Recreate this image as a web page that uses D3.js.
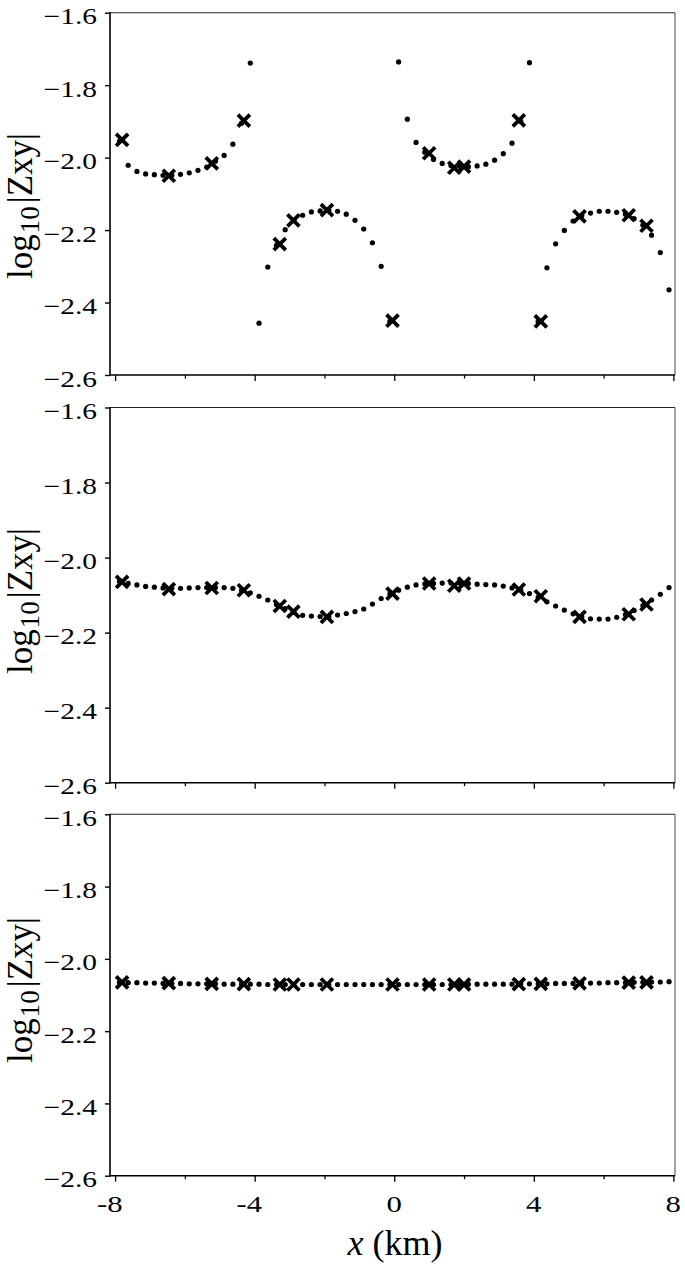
<!DOCTYPE html>
<html>
<head>
<meta charset="utf-8">
<script src="https://cdn.jsdelivr.net/npm/d3@7"></script>
<style>
  html, body { margin: 0; padding: 0; background: #fff; }
  svg { display: block; }
</style>
</head>
<body>
<svg id="chart" width="685" height="1266"></svg>
<script>
// ---------------- data ----------------
const gridX = [-7.875,-7.625,-7.375,-7.125,-6.875,-6.625,-6.375,-6.125,-5.875,-5.625,-5.375,-5.125,-4.875,-4.625,-4.375,-4.125,
  -3.875,-3.625,-3.375,-3.125,-2.875,-2.625,-2.375,-2.125,-1.875,-1.625,-1.375,-1.125,-0.875,-0.625,-0.375,-0.125,
  0.125,0.375,0.625,0.875,1.125,1.375,1.625,1.875,2.125,2.375,2.625,2.875,3.125,3.375,3.625,3.875,
  4.125,4.375,4.625,4.875,5.125,5.375,5.625,5.875,6.125,6.375,6.625,6.875,7.125,7.375,7.625,7.875];

const stationX = [-7.8,-6.46,-5.23,-4.31,-3.28,-2.89,-1.93,-0.05,1.0,1.72,2.0,3.57,4.2,5.31,6.72,7.23];

const curveTop = [-1.955,-2.021,-2.038,-2.045,-2.047,-2.049,-2.049,-2.046,-2.042,-2.035,-2.026,-2.010,-1.994,-1.963,-1.905,-1.739,
  -2.457,-2.302,-2.242,-2.199,-2.173,-2.159,-2.150,-2.147,-2.145,-2.148,-2.156,-2.173,-2.197,-2.235,-2.300,-2.452,
  -1.736,-1.894,-1.958,-1.985,-2.005,-2.016,-2.022,-2.024,-2.025,-2.023,-2.018,-2.007,-1.989,-1.960,-1.900,-1.738,
  -2.452,-2.304,-2.238,-2.201,-2.175,-2.160,-2.153,-2.148,-2.148,-2.151,-2.156,-2.168,-2.186,-2.214,-2.262,-2.365];
const stationTop = [-1.951,-2.050,-2.016,-1.898,-2.239,-2.173,-2.145,-2.450,-1.988,-2.028,-2.025,-1.897,-2.452,-2.162,-2.159,-2.188];

const curveMid = [-2.064,-2.069,-2.073,-2.077,-2.079,-2.081,-2.082,-2.082,-2.081,-2.080,-2.080,-2.080,-2.080,-2.082,-2.087,-2.094,
  -2.103,-2.113,-2.125,-2.136,-2.146,-2.154,-2.156,-2.157,-2.157,-2.153,-2.149,-2.144,-2.137,-2.124,-2.109,-2.097,
  -2.087,-2.079,-2.073,-2.070,-2.069,-2.068,-2.068,-2.068,-2.069,-2.071,-2.072,-2.073,-2.076,-2.081,-2.087,-2.096,
  -2.106,-2.118,-2.129,-2.140,-2.150,-2.158,-2.163,-2.164,-2.164,-2.159,-2.152,-2.141,-2.128,-2.113,-2.098,-2.080];
const stationMid = [-2.065,-2.084,-2.081,-2.087,-2.129,-2.144,-2.158,-2.096,-2.069,-2.075,-2.069,-2.085,-2.103,-2.158,-2.151,-2.125];

const curveBot = [-2.065,-2.066,-2.066,-2.067,-2.067,-2.068,-2.068,-2.068,-2.069,-2.069,-2.069,-2.069,-2.070,-2.070,-2.070,-2.070,
  -2.070,-2.071,-2.071,-2.071,-2.071,-2.071,-2.071,-2.071,-2.071,-2.071,-2.071,-2.071,-2.071,-2.071,-2.071,-2.071,
  -2.071,-2.071,-2.071,-2.071,-2.071,-2.071,-2.071,-2.070,-2.070,-2.070,-2.070,-2.070,-2.070,-2.070,-2.069,-2.069,
  -2.069,-2.069,-2.068,-2.068,-2.068,-2.067,-2.067,-2.067,-2.066,-2.066,-2.066,-2.065,-2.065,-2.064,-2.064,-2.063];
const stationBot = [-2.065,-2.067,-2.069,-2.070,-2.071,-2.071,-2.071,-2.071,-2.071,-2.071,-2.071,-2.070,-2.069,-2.068,-2.066,-2.065];

const yTicks = [-1.6,-1.8,-2.0,-2.2,-2.4,-2.6];
const xMajorTicks = [-8,-4,0,4,8];
const xMinorTicks = [-6,-2,2,6];
const xTickLabels = ["-8","-4","0","4","8"];
const yLabelMain = "log";
const yLabelSub = "10";
const yLabelTail = "|Zxy|";

// ---------------- layout ----------------
const FONT = "'Liberation Serif', 'Times New Roman', Times, 'DejaVu Serif', serif";
const L = 110, R = 675;
const panels = [
  { top: 12.7, bottom: 375,   labelCY: 206, curve: curveTop, stations: stationTop, xlabels: false },
  { top: 407.5, bottom: 782.7, labelCY: 601, curve: curveMid, stations: stationMid, xlabels: false },
  { top: 814.3, bottom: 1175.7, labelCY: 990, curve: curveBot, stations: stationBot, xlabels: true }
];
const TICK_SX = 1.28;

const svg = d3.select("#chart");
const x = d3.scaleLinear().domain([-8, 8]).range([115.1, 673.4]);

panels.forEach(p => {
  const y = d3.scaleLinear().domain([-2.6, -1.6]).range([p.bottom, p.top]);
  const g = svg.append("g");

  // frame: top/right thin
  g.append("line").attr("x1", L).attr("x2", R).attr("y1", p.top).attr("y2", p.top)
    .attr("stroke", "#222").attr("stroke-width", 1.1);
  g.append("line").attr("x1", R).attr("x2", R).attr("y1", p.top).attr("y2", p.bottom)
    .attr("stroke", "#555").attr("stroke-width", 1.1);

  // y axis ticks
  const yAxis = d3.axisLeft(y).tickValues(yTicks).tickSize(5).tickFormat("");
  const ya = g.append("g").attr("transform", `translate(${L},0)`).call(yAxis);
  ya.select(".domain").remove();
  ya.selectAll(".tick line").attr("stroke", "#000").attr("stroke-width", 1.4);

  yTicks.forEach(t => {
    g.append("g")
      .attr("transform", `translate(${L - 13},${y(t) + 11.5}) scale(${TICK_SX},1)`)
      .append("text")
      .attr("text-anchor", "end")
      .attr("font-family", FONT)
      .attr("font-size", 23)
      .attr("fill", "#000")
      .text(d3.format(".1f")(t));
  });

  // x axis ticks
  const xa = g.append("g").attr("transform", `translate(0,${p.bottom})`)
    .call(d3.axisBottom(x).tickValues(xMajorTicks).tickSize(6).tickFormat(""));
  xa.select(".domain").remove();
  xa.selectAll(".tick line").attr("stroke", "#000").attr("stroke-width", 1.3);
  const xm = g.append("g").attr("transform", `translate(0,${p.bottom})`)
    .call(d3.axisBottom(x).tickValues(xMinorTicks).tickSize(3.5).tickFormat(""));
  xm.select(".domain").remove();
  xm.selectAll(".tick line").attr("stroke", "#000").attr("stroke-width", 1.3);

  if (p.xlabels) {
    xMajorTicks.forEach((t, i) => {
      g.append("g")
        .attr("transform", `translate(${x(t) + 7.5},${p.bottom + 36}) scale(${TICK_SX},1)`)
        .append("text")
        .attr("text-anchor", "end")
        .attr("font-family", FONT)
        .attr("font-size", 24)
        .attr("fill", "#000")
        .text(xTickLabels[i]);
    });
    const xl = svg.append("text")
      .attr("x", 395).attr("y", p.bottom + 79)
      .attr("text-anchor", "middle")
      .attr("font-family", FONT)
      .attr("font-size", 36)
      .attr("fill", "#000");
    xl.append("tspan").attr("font-style", "italic").text("x");
    xl.append("tspan").text(" (km)");
  }

  // left & bottom axis lines
  g.append("line").attr("x1", L).attr("x2", L).attr("y1", p.top - 0.5).attr("y2", p.bottom + 0.7)
    .attr("stroke", "#000").attr("stroke-width", 1.6);
  g.append("line").attr("x1", L).attr("x2", R).attr("y1", p.bottom).attr("y2", p.bottom)
    .attr("stroke", "#000").attr("stroke-width", 1.6);

  // y label
  const yl = g.append("text")
    .attr("transform", `translate(31.5,${p.labelCY}) rotate(-90)`)
    .attr("text-anchor", "middle")
    .attr("font-family", FONT)
    .attr("font-size", 35)
    .attr("fill", "#000");
  yl.append("tspan").text(yLabelMain);
  yl.append("tspan").attr("font-size", 27).attr("dy", 7).attr("dx", 1).text(yLabelSub);
  yl.append("tspan").attr("dy", -7).attr("dx", 3).text(yLabelTail);

  // dotted model curve
  g.append("g").selectAll("circle")
    .data(gridX.map((gx, i) => [gx, p.curve[i]]))
    .join("circle")
    .attr("cx", d => x(d[0]))
    .attr("cy", d => y(d[1]))
    .attr("r", 2.6)
    .attr("fill", "#000");

  // station crosses
  const s = 6;
  g.append("g").selectAll("path")
    .data(stationX.map((sx, i) => [sx, p.stations[i]]))
    .join("path")
    .attr("transform", d => `translate(${x(d[0])},${y(d[1])})`)
    .attr("d", `M${-s},${-s}L${s},${s}M${-s},${s}L${s},${-s}`)
    .attr("stroke", "#000")
    .attr("stroke-width", 3.8)
    .attr("fill", "none");
});
</script>
</body>
</html>
